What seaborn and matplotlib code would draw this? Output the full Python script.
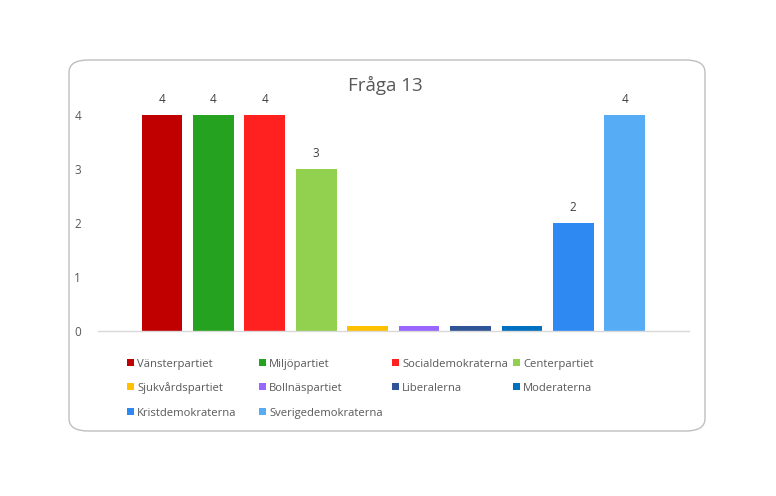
import matplotlib
matplotlib.use("Agg")
import matplotlib.pyplot as plt
import seaborn as sns
import pandas as pd
from matplotlib.patches import FancyBboxPatch, Rectangle

parties = ["Vänsterpartiet", "Miljöpartiet", "Socialdemokraterna", "Centerpartiet",
           "Sjukvårdspartiet", "Bollnäspartiet", "Liberalerna", "Moderaterna",
           "Kristdemokraterna", "Sverigedemokraterna"]
values = [4, 4, 4, 3, 0.1, 0.1, 0.1, 0.1, 2, 4]
labels = ["4", "4", "4", "3", "", "", "", "", "2", "4"]
colors = ["#C00000", "#25A21F", "#FF2020", "#92D050", "#FFC000", "#9966FF",
          "#2F5597", "#0070C0", "#2E89F2", "#56ADF5"]
yticks = [0, 1, 2, 3, 4]
title = "Fråga 13"

sns.set_theme(style="white")
plt.rcParams['font.family'] = ['Open Sans', 'DejaVu Sans']
text_color = "#595959"

W, H = 776, 496
fig = plt.figure(figsize=(W / 100, H / 100), dpi=100)

# rounded chart border
box = FancyBboxPatch((69 / W, 1 - 431 / H), (705 - 69) / W, (431 - 60) / H,
                     boxstyle="round,pad=0,rounding_size=0.025",
                     transform=fig.transFigure, facecolor="white",
                     edgecolor="#BFBFBF", linewidth=1.0, zorder=-5)
fig.patches.append(box)

ax = fig.add_axes([97.7 / W, 1 - 331 / H, (689 - 97.7) / W, (331 - 115) / H])
ax.set_facecolor("none")
ax.set_zorder(2)

df = pd.DataFrame({"party": parties, "value": values})
sns.barplot(data=df, x="party", y="value", hue="party", palette=colors,
            order=parties, hue_order=parties, dodge=False, legend=False,
            width=0.79, saturation=1, linewidth=0, ax=ax)

ax.set_xlim(-1.25, 10.25)
ax.set_ylim(0, 4)
ax.set_yticks(yticks)
ax.set_yticklabels([str(t) for t in yticks], fontsize=8.5, color=text_color)
ax.tick_params(axis="y", length=0, pad=12)
ax.set_xticks([10.25])
ax.set_xticklabels([""])
ax.tick_params(axis="x", length=4, color="#D9D9D9", width=1, direction="out")
ax.set_xlabel("")
ax.set_ylabel("")
for s in ["top", "right", "left"]:
    ax.spines[s].set_visible(False)
ax.spines["bottom"].set_color("#D9D9D9")
ax.spines["bottom"].set_linewidth(1.0)

for i, (v, lab) in enumerate(zip(values, labels)):
    if lab:
        ax.text(i, v + 0.16, lab, ha="center", va="bottom", fontsize=8.5,
                color="#404040", clip_on=False)

fig.text(385 / W, 1 - 85 / H, title, ha="center", va="center",
         fontsize=13.5, color=text_color)

# legend
col_x = [130, 262, 395, 516]
row_y = [362, 386, 411]
for k, (p, c) in enumerate(zip(parties, colors)):
    r, cidx = divmod(k, 4)
    x, y = col_x[cidx], row_y[r]
    fig.patches.append(Rectangle(((x - 3.5) / W, 1 - (y + 3.5) / H), 7 / W, 7 / H,
                                 transform=fig.transFigure, facecolor=c,
                                 edgecolor="none"))
    fig.text((x + 7) / W, 1 - (y + 1) / H, p, ha="left", va="center_baseline",
             fontsize=8.1, color=text_color)

fig.savefig("out.png", dpi=100, facecolor="white")
